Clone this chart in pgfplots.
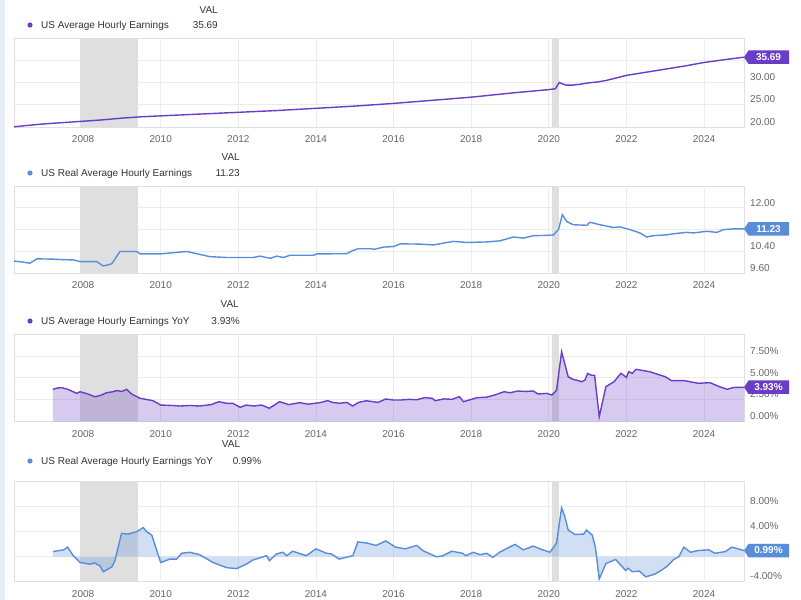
\documentclass[border=0pt]{standalone}
\usepackage{pgfplots}
\pgfplotsset{compat=1.18}
\usepackage{fontspec}
\setmainfont{Liberation Sans}
\definecolor{purp}{RGB}{106,61,200}
\definecolor{blu}{RGB}{88,141,218}
\definecolor{recc}{RGB}{223,223,223}
\definecolor{gridc}{RGB}{236,236,236}
\definecolor{framec}{RGB}{224,224,224}
\definecolor{tickc}{RGB}{102,102,102}
\definecolor{legc}{RGB}{51,51,51}
\definecolor{stripc}{RGB}{233,238,244}
\newcommand{\tfont}{\fontsize{10bp}{12bp}\selectfont}
\pgfplotsset{panel/.style={
  scale only axis, width=730bp, xmin=2006.22, xmax=2025.03,
  anchor=south west,
  axis line style={draw=framec, line width=0.8bp},
  xtick={2008,2010,2012,2014,2016,2018,2020,2022,2024},
  xticklabels={2008,2010,2012,2014,2016,2018,2020,2022,2024},
  major tick length=0pt,
  grid=major, major grid style={draw=gridc, line width=0.8bp},
  yticklabel pos=right,
  /pgf/number format/assume math mode=true,
  tick label style={font=\tfont, text=tickc},
  xticklabel style={anchor=north, inner sep=0pt, yshift=-8.4bp},
  yticklabel style={anchor=south west, inner sep=0pt, xshift=6bp, yshift=1.5bp},
}}
\newcommand{\badge}[3]{%
  \fill[#2] (#1) -- ++(4.5bp,6.75bp) -- ++(40.5bp,0) -- ++(0,-13.5bp) -- ++(-40.5bp,0) -- cycle;
  \node[text=white, font=\tfont\bfseries, inner sep=0pt] at ([xshift=24.5bp]#1) {#3};}
\begin{document}
\begin{tikzpicture}
\useasboundingbox (0,0) rectangle (801bp,-600bp);
\fill[white] (0,0) rectangle (801bp,-600bp);
\fill[stripc] (0,0) rectangle (4.5bp,-600bp);

% ---------------- Panel 1
\begin{axis}[panel, at={(14bp,-127bp)}, height=89bp, ymin=20, ymax=40,
  ytick={20,25,30,35,40}, yticklabels={20.00,25.00,30.00,,}]
\addplot[draw=none, fill=recc] coordinates {(2007.917,20)(2009.417,20)(2009.417,40)(2007.917,40)};
\addplot[draw=none, fill=recc] coordinates {(2020.083,20)(2020.25,20)(2020.25,40)(2020.083,40)};
\addplot[purp, line width=1.4bp] coordinates {
(2006.22,20.04)(2006.5,20.3)(2007.0,20.7)(2007.5,21.0)(2008.0,21.3)(2008.5,21.6)(2009.0,22.0)(2009.5,22.3)(2010.0,22.5)(2011.0,22.9)(2012.0,23.3)(2013.0,23.7)(2014.0,24.2)(2015.0,24.7)(2016.0,25.3)(2017.0,26.0)(2018.0,26.7)(2019.0,27.6)(2020.0,28.4)(2020.17,28.6)(2020.27,30.0)(2020.35,29.7)(2020.45,29.4)(2020.6,29.4)(2020.8,29.6)(2021.0,29.9)(2021.25,30.1)(2021.5,30.5)(2022.0,31.6)(2022.5,32.3)(2023.0,33.0)(2023.5,33.7)(2024.0,34.5)(2024.5,35.1)(2025.03,35.69)};
\coordinate (e1) at (axis cs:2025.03,35.69);
\end{axis}

% ---------------- Panel 2
\begin{axis}[panel, at={(14bp,-273.3bp)}, height=87.3bp, ymin=9.6, ymax=12.8,
  ytick={9.6,10.4,11.2,12.0,12.8}, yticklabels={9.60,10.40,,12.00,}]
\addplot[draw=none, fill=recc] coordinates {(2007.917,9.6)(2009.417,9.6)(2009.417,12.8)(2007.917,12.8)};
\addplot[draw=none, fill=recc] coordinates {(2020.083,9.6)(2020.25,9.6)(2020.25,12.8)(2020.083,12.8)};
\addplot[blu, line width=1.4bp] coordinates {
(2006.22,10.05)(2006.4,10.02)(2006.63,9.97)(2006.81,10.13)(2007.2,10.12)(2007.5,10.10)(2007.75,10.09)(2007.92,10.03)(2008.35,10.03)(2008.52,9.87)(2008.62,9.90)(2008.74,9.95)(2008.95,10.40)(2009.38,10.40)(2009.47,10.31)(2009.98,10.31)(2010.67,10.40)(2011.27,10.21)(2011.70,10.18)(2012.39,10.18)(2012.56,10.23)(2012.82,10.15)(2012.99,10.23)(2013.16,10.18)(2013.33,10.26)(2013.93,10.26)(2014.02,10.31)(2014.79,10.32)(2014.96,10.44)(2015.09,10.50)(2015.40,10.50)(2015.5,10.48)(2015.74,10.56)(2016.0,10.58)(2016.17,10.68)(2016.68,10.67)(2017.03,10.64)(2017.54,10.77)(2017.89,10.73)(2018.14,10.74)(2018.40,10.75)(2018.74,10.79)(2019.09,10.93)(2019.35,10.89)(2019.60,10.98)(2019.95,10.99)(2020.12,11.01)(2020.25,11.20)(2020.35,11.75)(2020.46,11.50)(2020.63,11.38)(2020.98,11.36)(2021.06,11.47)(2021.32,11.38)(2021.66,11.28)(2021.84,11.30)(2022.09,11.20)(2022.35,11.08)(2022.52,10.93)(2022.69,10.98)(2023.04,11.01)(2023.21,11.05)(2023.55,11.10)(2023.73,11.08)(2024.07,11.14)(2024.33,11.10)(2024.50,11.20)(2024.76,11.23)(2025.03,11.23)};
\coordinate (e2) at (axis cs:2025.03,11.23);
\end{axis}

% ---------------- Panel 3
\begin{axis}[panel, at={(14bp,-421.7bp)}, height=87.7bp, ymin=0, ymax=10,
  ytick={0,2.5,5,7.5,10}, yticklabels={0.00\%,2.50\%,5.00\%,7.50\%,}]
\addplot[draw=none, fill=recc] coordinates {(2007.917,0)(2009.417,0)(2009.417,10)(2007.917,10)};
\addplot[draw=none, fill=recc] coordinates {(2020.083,0)(2020.25,0)(2020.25,10)(2020.083,10)};
\addplot[draw=none, fill=purp, fill opacity=0.27] coordinates {
(2007.22,3.69)(2007.35,3.85)(2007.45,3.88)(2007.6,3.7)(2007.84,3.23)(2007.92,3.42)(2008.1,3.2)(2008.31,2.85)(2008.45,3.0)(2008.61,3.31)(2008.75,3.4)(2008.87,3.55)(2009.0,3.45)(2009.12,3.69)(2009.25,3.16)(2009.47,2.67)(2009.8,2.4)(2010.0,1.90)(2010.3,1.85)(2010.5,1.79)(2010.75,1.85)(2011.0,1.79)(2011.3,1.95)(2011.5,2.28)(2011.7,2.1)(2011.86,2.09)(2012.05,1.64)(2012.2,1.9)(2012.4,1.79)(2012.6,1.9)(2012.8,1.53)(2013.06,2.28)(2013.3,1.95)(2013.58,2.17)(2013.8,2.0)(2014.1,2.17)(2014.3,2.4)(2014.43,2.2)(2014.6,2.1)(2014.8,2.2)(2014.94,1.79)(2015.1,2.2)(2015.3,2.39)(2015.6,2.2)(2015.8,2.59)(2016.0,2.47)(2016.18,2.47)(2016.4,2.55)(2016.6,2.5)(2016.8,2.75)(2017.0,2.67)(2017.07,2.39)(2017.3,2.6)(2017.5,2.55)(2017.7,2.85)(2017.8,2.28)(2018.15,2.74)(2018.4,2.8)(2018.6,3.04)(2018.85,3.42)(2019.0,3.3)(2019.2,3.5)(2019.4,3.45)(2019.6,3.5)(2019.72,3.16)(2019.95,3.23)(2020.08,3.04)(2020.2,3.6)(2020.33,7.98)(2020.5,5.13)(2020.62,4.83)(2020.75,4.7)(2020.85,4.56)(2020.93,4.75)(2021.0,5.5)(2021.1,5.3)(2021.18,5.3)(2021.3,0.57)(2021.47,3.99)(2021.68,4.56)(2021.86,5.52)(2022.0,5.06)(2022.06,5.7)(2022.15,5.52)(2022.25,5.97)(2022.6,5.7)(2023.0,5.13)(2023.16,4.68)(2023.5,4.68)(2023.85,4.38)(2024.15,4.45)(2024.4,3.99)(2024.6,3.69)(2024.75,3.9)(2025.03,3.93)} \closedcycle;
\addplot[purp, line width=1.4bp] coordinates {
(2007.22,3.69)(2007.35,3.85)(2007.45,3.88)(2007.6,3.7)(2007.84,3.23)(2007.92,3.42)(2008.1,3.2)(2008.31,2.85)(2008.45,3.0)(2008.61,3.31)(2008.75,3.4)(2008.87,3.55)(2009.0,3.45)(2009.12,3.69)(2009.25,3.16)(2009.47,2.67)(2009.8,2.4)(2010.0,1.90)(2010.3,1.85)(2010.5,1.79)(2010.75,1.85)(2011.0,1.79)(2011.3,1.95)(2011.5,2.28)(2011.7,2.1)(2011.86,2.09)(2012.05,1.64)(2012.2,1.9)(2012.4,1.79)(2012.6,1.9)(2012.8,1.53)(2013.06,2.28)(2013.3,1.95)(2013.58,2.17)(2013.8,2.0)(2014.1,2.17)(2014.3,2.4)(2014.43,2.2)(2014.6,2.1)(2014.8,2.2)(2014.94,1.79)(2015.1,2.2)(2015.3,2.39)(2015.6,2.2)(2015.8,2.59)(2016.0,2.47)(2016.18,2.47)(2016.4,2.55)(2016.6,2.5)(2016.8,2.75)(2017.0,2.67)(2017.07,2.39)(2017.3,2.6)(2017.5,2.55)(2017.7,2.85)(2017.8,2.28)(2018.15,2.74)(2018.4,2.8)(2018.6,3.04)(2018.85,3.42)(2019.0,3.3)(2019.2,3.5)(2019.4,3.45)(2019.6,3.5)(2019.72,3.16)(2019.95,3.23)(2020.08,3.04)(2020.2,3.6)(2020.33,7.98)(2020.5,5.13)(2020.62,4.83)(2020.75,4.7)(2020.85,4.56)(2020.93,4.75)(2021.0,5.5)(2021.1,5.3)(2021.18,5.3)(2021.3,0.57)(2021.47,3.99)(2021.68,4.56)(2021.86,5.52)(2022.0,5.06)(2022.06,5.7)(2022.15,5.52)(2022.25,5.97)(2022.6,5.7)(2023.0,5.13)(2023.16,4.68)(2023.5,4.68)(2023.85,4.38)(2024.15,4.45)(2024.4,3.99)(2024.6,3.69)(2024.75,3.9)(2025.03,3.93)};
\coordinate (e3) at (axis cs:2025.03,3.93);
\end{axis}

% ---------------- Panel 4
\begin{axis}[panel, at={(14bp,-581.7bp)}, height=100bp, ymin=-4, ymax=12,
  ytick={-4,0,4,8,12}, yticklabels={-4.00\%,,4.00\%,8.00\%,}]
\addplot[draw=none, fill=recc] coordinates {(2007.917,-4)(2009.417,-4)(2009.417,12)(2007.917,12)};
\addplot[draw=none, fill=recc] coordinates {(2020.083,-4)(2020.25,-4)(2020.25,12)(2020.083,12)};
\addplot[draw=none, fill=blu, fill opacity=0.28] coordinates {
(2007.22,0.82)(2007.5,1.1)(2007.6,1.53)(2007.75,0.16)(2007.92,-0.93)(2008.18,-1.2)(2008.3,-1.0)(2008.44,-1.5)(2008.52,-2.41)(2008.74,-1.64)(2008.82,-0.66)(2008.99,3.73)(2009.16,3.62)(2009.38,4.0)(2009.55,4.66)(2009.64,4.0)(2009.77,3.45)(2010.0,-0.93)(2010.24,-0.38)(2010.41,-0.38)(2010.54,0.55)(2010.75,0.71)(2011.0,0.33)(2011.35,-0.93)(2011.7,-1.76)(2011.96,-1.9)(2012.2,-1.2)(2012.37,-0.55)(2012.73,0.16)(2012.8,-0.66)(2012.98,0.44)(2013.15,0.71)(2013.25,0.16)(2013.4,0.88)(2013.75,0.16)(2014.0,1.26)(2014.27,0.55)(2014.4,0.44)(2014.6,-0.38)(2014.95,0.16)(2015.08,2.36)(2015.3,2.2)(2015.55,1.81)(2015.8,2.52)(2016.05,1.53)(2016.3,1.26)(2016.6,1.81)(2016.75,0.99)(2017.1,0.0)(2017.25,0.1)(2017.5,0.88)(2017.78,0.55)(2017.86,0.16)(2018.05,0.71)(2018.23,0.33)(2018.4,0.55)(2018.56,-0.11)(2018.73,0.71)(2018.9,1.26)(2019.13,1.97)(2019.34,1.1)(2019.6,1.7)(2019.77,1.26)(2020.03,0.71)(2020.2,2.2)(2020.33,7.84)(2020.41,6.47)(2020.5,4.28)(2020.67,3.56)(2020.9,3.62)(2020.97,4.28)(2021.12,3.45)(2021.2,1.53)(2021.3,-3.56)(2021.47,-1.1)(2021.72,-0.44)(2021.98,-2.19)(2022.05,-1.86)(2022.15,-2.41)(2022.33,-2.3)(2022.5,-3.23)(2022.75,-2.74)(2022.92,-2.08)(2023.04,-1.59)(2023.22,-0.44)(2023.35,0.0)(2023.48,1.53)(2023.65,0.71)(2023.85,0.99)(2024.12,1.1)(2024.28,0.55)(2024.55,0.82)(2024.72,1.53)(2025.03,0.99)} \closedcycle;
\addplot[blu, line width=1.4bp] coordinates {
(2007.22,0.82)(2007.5,1.1)(2007.6,1.53)(2007.75,0.16)(2007.92,-0.93)(2008.18,-1.2)(2008.3,-1.0)(2008.44,-1.5)(2008.52,-2.41)(2008.74,-1.64)(2008.82,-0.66)(2008.99,3.73)(2009.16,3.62)(2009.38,4.0)(2009.55,4.66)(2009.64,4.0)(2009.77,3.45)(2010.0,-0.93)(2010.24,-0.38)(2010.41,-0.38)(2010.54,0.55)(2010.75,0.71)(2011.0,0.33)(2011.35,-0.93)(2011.7,-1.76)(2011.96,-1.9)(2012.2,-1.2)(2012.37,-0.55)(2012.73,0.16)(2012.8,-0.66)(2012.98,0.44)(2013.15,0.71)(2013.25,0.16)(2013.4,0.88)(2013.75,0.16)(2014.0,1.26)(2014.27,0.55)(2014.4,0.44)(2014.6,-0.38)(2014.95,0.16)(2015.08,2.36)(2015.3,2.2)(2015.55,1.81)(2015.8,2.52)(2016.05,1.53)(2016.3,1.26)(2016.6,1.81)(2016.75,0.99)(2017.1,0.0)(2017.25,0.1)(2017.5,0.88)(2017.78,0.55)(2017.86,0.16)(2018.05,0.71)(2018.23,0.33)(2018.4,0.55)(2018.56,-0.11)(2018.73,0.71)(2018.9,1.26)(2019.13,1.97)(2019.34,1.1)(2019.6,1.7)(2019.77,1.26)(2020.03,0.71)(2020.2,2.2)(2020.33,7.84)(2020.41,6.47)(2020.5,4.28)(2020.67,3.56)(2020.9,3.62)(2020.97,4.28)(2021.12,3.45)(2021.2,1.53)(2021.3,-3.56)(2021.47,-1.1)(2021.72,-0.44)(2021.98,-2.19)(2022.05,-1.86)(2022.15,-2.41)(2022.33,-2.3)(2022.5,-3.23)(2022.75,-2.74)(2022.92,-2.08)(2023.04,-1.59)(2023.22,-0.44)(2023.35,0.0)(2023.48,1.53)(2023.65,0.71)(2023.85,0.99)(2024.12,1.1)(2024.28,0.55)(2024.55,0.82)(2024.72,1.53)(2025.03,0.99)};
\coordinate (e4) at (axis cs:2025.03,0.99);
\end{axis}

% ---------------- badges
\badge{e1}{purp}{35.69}
\badge{e2}{blu}{11.23}
\badge{e3}{purp}{3.93\%}
\badge{e4}{blu}{0.99\%}

% ---------------- legends
\begin{scope}[every node/.style={font=\tfont, text=legc, inner sep=0pt}]
\node[anchor=base east] at (218bp,-13.6bp) {VAL};
\fill[purp] (30bp,-25bp) circle (2.6bp);
\node[anchor=base west] at (41bp,-28.6bp) {US Average Hourly Earnings};
\node[anchor=base east] at (218bp,-28.6bp) {35.69};

\node[anchor=base east] at (240bp,-160.6bp) {VAL};
\fill[blu] (30bp,-173bp) circle (2.6bp);
\node[anchor=base west] at (41bp,-176.6bp) {US Real Average Hourly Earnings};
\node[anchor=base east] at (240bp,-176.6bp) {11.23};

\node[anchor=base east] at (239bp,-307.6bp) {VAL};
\fill[purp] (30bp,-321bp) circle (2.6bp);
\node[anchor=base west] at (41bp,-324.6bp) {US Average Hourly Earnings YoY};
\node[anchor=base east] at (240bp,-324.6bp) {3.93\%};

\node[anchor=base] at (231bp,-447.6bp) {VAL};
\fill[blu] (30bp,-461bp) circle (2.6bp);
\node[anchor=base west] at (41bp,-464.6bp) {US Real Average Hourly Earnings YoY};
\node[anchor=base] at (247bp,-464.6bp) {0.99\%};
\end{scope}
\end{tikzpicture}
\end{document}
